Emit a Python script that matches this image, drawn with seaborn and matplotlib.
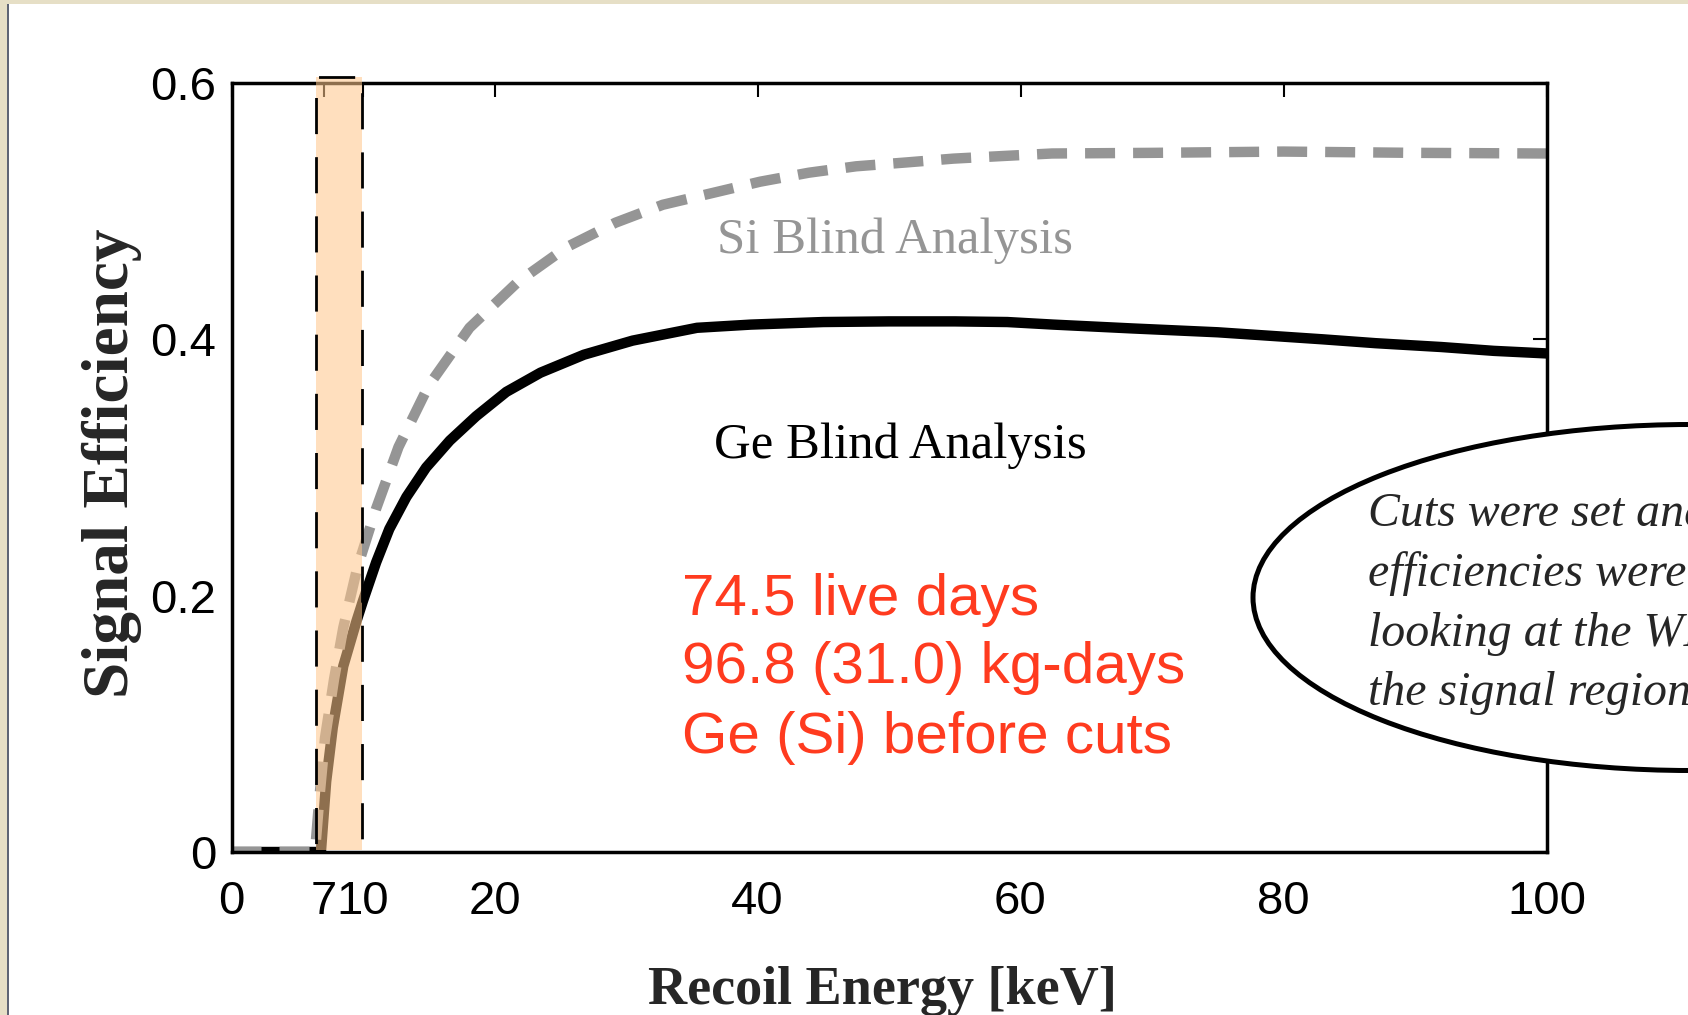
import matplotlib
matplotlib.use("Agg")
import matplotlib.pyplot as plt
import seaborn as sns
import pandas as pd
from matplotlib.patches import Rectangle, Ellipse
from matplotlib import font_manager as fm

# ---------------- data ----------------
energy_ge = [0, 6.8, 7.2, 7.7, 8.5, 9.5, 10.0, 11.0, 12.0, 13.3, 14.8, 16.6, 18.6,
             20.9, 23.5, 26.8, 30.5, 35.4, 39.5, 45, 50, 55, 59, 62.5, 68.5, 75,
             83, 87, 92, 96, 100]
eff_ge = [0, 0, 0.055, 0.097, 0.145, 0.180, 0.196, 0.226, 0.252, 0.277, 0.300, 0.321,
          0.340, 0.359, 0.374, 0.388, 0.399, 0.409, 0.4115, 0.4135, 0.414, 0.414,
          0.4135, 0.4115, 0.4085, 0.4055, 0.400, 0.397, 0.394, 0.391, 0.389]

energy_si = [0, 6.35, 6.68, 7.11, 7.8, 8.5, 9.57, 11.0, 12.7, 15.0, 18.1, 21.8, 25.5,
             29.2, 32.8, 36.5, 40.2, 43.9, 47.5, 51.3, 54.9, 58.6, 62.4, 70, 80, 90, 100]
eff_si = [0, 0, 0.042, 0.089, 0.135, 0.175, 0.222, 0.268, 0.316, 0.364, 0.409, 0.445,
          0.472, 0.491, 0.505, 0.514, 0.523, 0.530, 0.535, 0.538, 0.541, 0.543, 0.545,
          0.5455, 0.5465, 0.5455, 0.545]

xtick_vals = [0, 7, 10, 20, 40, 60, 80, 100]
xtick_labels = ["0", "7", "10", "20", "40", "60", "80", "100"]
ytick_vals = [0, 0.2, 0.4, 0.6]
ytick_labels = ["0", "0.2", "0.4", "0.6"]

band_lo, band_hi, band_top = 6.42, 9.95, 0.605

si_label = "Si Blind Analysis"
ge_label = "Ge Blind Analysis"
exposure_lines = ["74.5 live days", "96.8 (31.0) kg-days", "Ge (Si) before cuts"]
note_lines = ["Cuts were set and", "efficiencies were", "looking at the WIMP",
              "the signal region"]
xlabel = "Recoil Energy [keV]"
ylabel = "Signal Efficiency"

# ---------------- style ----------------
sns.set_style("white")
avail = {f.name for f in fm.fontManager.ttflist}
if "Liberation Sans Narrow" in avail:
    tick_family, tick_size = "Liberation Sans Narrow", 38
else:
    tick_family, tick_size = "Liberation Sans", 34
serif = ["Liberation Serif", "DejaVu Serif"]

W, H = 1688, 1015
fig = plt.figure(figsize=(W / 100, H / 100), dpi=100, facecolor="white")

# beige frame strips at top/left
fig.add_artist(Rectangle((0, 1 - 4 / H), 1, 4 / H, transform=fig.transFigure,
                         facecolor="#E6DFC6", edgecolor="none", zorder=0))
fig.add_artist(Rectangle((0, 0), 7 / W, 1, transform=fig.transFigure,
                         facecolor="#E6DFC6", edgecolor="none", zorder=0))
fig.add_artist(Rectangle((7 / W, 0), 2 / W, 1 - 4 / H, transform=fig.transFigure,
                         facecolor="#5F6575", edgecolor="none", zorder=0))

L, R, T, B = 231.5, 1546.5, 83, 852
ax = fig.add_axes([L / W, (H - B) / H, (R - L) / W, (B - T) / H])

df_ge = pd.DataFrame({"energy": energy_ge, "eff": eff_ge})
df_si = pd.DataFrame({"energy": energy_si, "eff": eff_si})

sns.lineplot(data=df_ge, x="energy", y="eff", color="black", lw=7.5,
             estimator=None, ax=ax)
sns.lineplot(data=df_si, x="energy", y="eff", color="#959595", lw=7.5,
             estimator=None, ax=ax)
si_line = ax.lines[-1]
si_line.set_dashes((2.88, 1.73))
si_line.set_dash_capstyle("butt")

ax.set_xlim(0, 100)
ax.set_ylim(0, 0.6)

# threshold band
ax.add_patch(Rectangle((band_lo, 0.0015), band_hi - band_lo, band_top - 0.0015,
                       facecolor="#FFC78C", alpha=0.56, edgecolor="none",
                       zorder=3, clip_on=False))
ax.add_patch(Rectangle((band_lo, 0), band_hi - band_lo, band_top, fill=False,
                       edgecolor="black", lw=2, ls=(0, (13, 8.3)),
                       zorder=4, clip_on=False))

for sp in ax.spines.values():
    sp.set_linewidth(2.5)
    sp.set_color("black")

ax.set_xticks(xtick_vals, xtick_labels, fontfamily=tick_family, fontsize=tick_size)
ax.set_yticks(ytick_vals, ytick_labels, fontfamily=tick_family, fontsize=tick_size)
ax.tick_params(direction="in", top=True, right=True, length=10, width=1.5,
               colors="black")
ax.tick_params(axis="x", pad=20)
ax.tick_params(axis="y", pad=11)

ax.set_xlabel(xlabel, fontsize=39, fontweight="bold", family=serif)
ax.xaxis.set_label_coords(0.4947, -0.198)
ax.xaxis.label.set_va("baseline")
ax.set_ylabel(ylabel, fontsize=47, fontweight="bold", family=serif)
ax.yaxis.set_label_coords(-0.0909, 0.506)
ax.yaxis.label.set_va("center")

# curve labels
ax.text(0.5046, 0.779, si_label, transform=ax.transAxes, ha="center",
        va="baseline", fontsize=36.5, family=serif, color="#959595")
ax.text(0.5088, 0.512, ge_label, transform=ax.transAxes, ha="center",
        va="baseline", fontsize=36.5, family=serif, color="black")

# exposure text
for line, yb in zip(exposure_lines, [615, 683, 753]):
    ax.text((685 - L) / (R - L) - 0.002, (B - yb) / (B - T), line,
            transform=ax.transAxes, ha="left", va="baseline", fontsize=42,
            family=["Liberation Sans", "DejaVu Sans"], color="#FF3B1F")

# note ellipse (cut off at right edge, as in the original slide)
fig.add_artist(Ellipse((1690 / W, 1 - 597.5 / H), 874 / W, 346 / H,
                       transform=fig.transFigure, facecolor="white",
                       edgecolor="black", lw=3.6, zorder=5))
for line, yb in zip(note_lines, [526, 586, 645.5, 705]):
    fig.text(1368 / W, 1 - yb / H, line, fontsize=34.5, style="italic",
             family=serif, ha="left", va="baseline", zorder=6)

fig.savefig("out.png", dpi=100, facecolor="white")
